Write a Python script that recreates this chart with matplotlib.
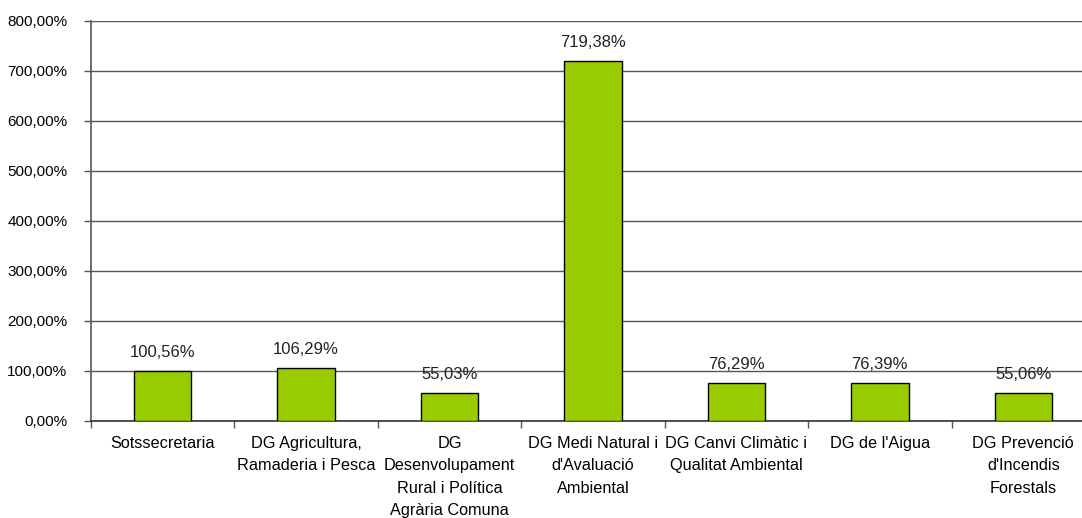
import matplotlib.pyplot as plt
import numpy as np
from matplotlib.ticker import FuncFormatter

plt.rcParams['font.family'] = ['Liberation Sans', 'DejaVu Sans']

categories = ["Sotssecretaria",
              "DG Agricultura,\nRamaderia i Pesca",
              "DG\nDesenvolupament\nRural i Política\nAgrària Comuna",
              "DG Medi Natural i\nd'Avaluació\nAmbiental",
              "DG Canvi Climàtic i\nQualitat Ambiental",
              "DG de l'Aigua",
              "DG Prevenció\nd'Incendis\nForestals"]
values = [100.56, 106.29, 55.03, 719.38, 76.29, 76.39, 55.06]
y_ticks = [0, 100, 200, 300, 400, 500, 600, 700, 800]


def pct(v, pos=None):
    return f"{v:.2f}".replace(".", ",") + "%"


fig = plt.figure(figsize=(10.82, 5.18), dpi=100)
ax = fig.add_axes([91/1082, 1-421/518, 1004/1082, 400/518])

x = np.arange(len(values))
ax.bar(x, values, width=0.40, color='#99CC00', edgecolor='black', linewidth=1, zorder=3)
for xi, v in zip(x, values):
    ax.text(xi, v + 37, pct(v), ha='center', va='center', fontsize=12, color='#222222')

ax.set_xlim(-0.5, len(values) - 0.5)
ax.set_ylim(0, 800)
ax.set_yticks(y_ticks)
ax.yaxis.set_major_formatter(FuncFormatter(pct))
ax.yaxis.grid(True, color='#555555', linewidth=1, zorder=0)
ax.tick_params(axis='y', length=5, width=1, color='#555555', labelsize=11, pad=12)

ax.set_xticks(np.arange(len(values) + 1) - 0.5)
ax.set_xticklabels([])
ax.tick_params(axis='x', which='major', length=5, width=1, color='#555555')
ax.set_xticks(x, minor=True)
ax.set_xticklabels(categories, minor=True, fontsize=11.7, linespacing=1.6)
ax.tick_params(axis='x', which='minor', length=0, pad=11)

for s in ['top', 'right']:
    ax.spines[s].set_visible(False)
ax.spines['left'].set_color('#555555')
ax.spines['bottom'].set_color('#333333')
ax.spines['left'].set_linewidth(1.2)
ax.spines['bottom'].set_linewidth(1.2)

fig.savefig('out.png', dpi=100)
